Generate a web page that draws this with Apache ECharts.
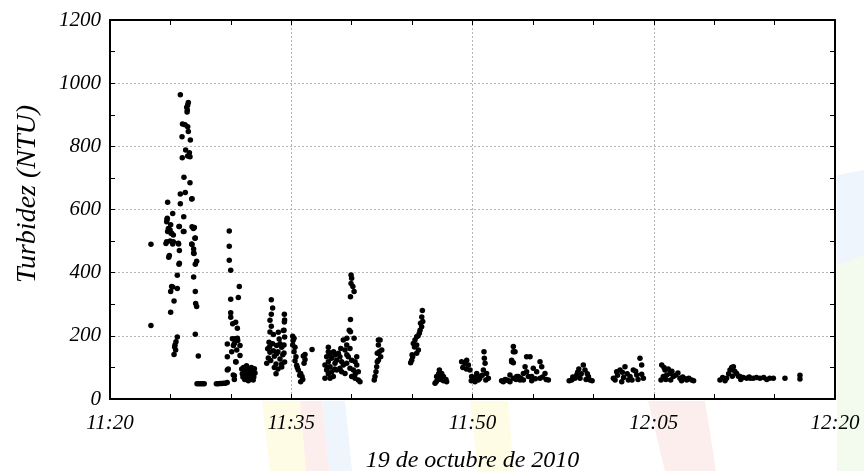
<!DOCTYPE html>
<html><head><meta charset="utf-8">
<script src="https://cdn.jsdelivr.net/npm/echarts@6/dist/echarts.min.js"></script>
<style>html,body{margin:0;padding:0;background:#fff}#c{width:864px;height:471px}</style>
</head><body><div id="c"></div>
<script>
// axis text
const xTickLabels = ['11:20', '11:35', '11:50', '12:05', '12:20'];
const xTitle = '19 de octubre de 2010';
const yTitle = 'Turbidez (NTU)';

// readings: [minutes after 11:20, turbidity NTU]
const burst1 = [[3.39,490],[3.39,233]];
const burst2 = [
  [5.82,963],[6.48,939],[6.43,931],[6.35,924],[6.40,915],[6.38,909],
  [6.00,871],[6.21,868],[6.43,862],[6.48,847],[5.96,830],[6.65,820],
  [6.26,788],[6.57,780],[6.43,769],[5.98,764],[6.62,767],
  [6.12,702],[6.62,685],[6.23,654],[5.82,649],[6.79,634],[6.76,633],
  [4.77,623],[5.82,618],[5.19,587],[4.72,568],[4.69,561],[5.02,552],[4.86,538],[4.77,530],[5.05,525],
  [6.10,577],[5.71,546],[6.12,530],[6.79,545],[6.98,543],[7.06,510],
  [4.74,572],[4.83,540],[4.97,535],[5.10,525],[5.24,519],[5.74,546],[6.07,530],[6.90,540],[7.03,509],
  [4.63,492],[4.97,500],[5.19,491],[5.68,491],[5.74,470],[4.86,449],[4.91,454],[6.79,489],[6.92,475],
  [6.92,462],[7.17,436],[4.69,498],[5.24,498],[5.65,493],[6.76,491],[6.95,461],
  [5.71,427],[5.57,392],[7.06,427],[5.19,355],[5.57,350],[6.92,386],[5.30,310],[7.06,340],[5.02,275],
  [7.09,302],[7.17,293],[5.10,356],[5.02,340],[5.74,430],
  [7.06,205],[5.57,196],[5.46,181],[5.38,171],[5.43,155],[5.30,141],[5.35,165],[7.31,136],
  [7.20,48],[7.35,48],[7.50,48],[7.65,48],[7.80,48],
  [8.80,48],[8.95,48],[9.10,49],[9.25,49],[9.40,50],[9.55,50],[9.70,52]
];
const burst3 = [
  [9.87,532],[9.87,484],[9.87,439],[9.99,408],[10.70,356],[9.99,316],[10.62,321],[9.99,273],[9.99,259],
  [10.40,243],[10.15,238],[10.54,224],[9.71,174],[10.29,176],[10.54,192],[10.49,155],[10.07,150],[9.71,134],
  [10.40,118],[9.79,95],[10.20,76],[10.29,62],[10.76,169],[10.43,117],[10.21,169],[10.13,191],[10.35,191],
  [10.57,185],[10.76,138],[10.29,74],[9.71,92],
  [10.90,95],[10.95,80],[11.00,70],[11.05,100],[11.10,88],[11.15,62],[11.20,75],[11.25,92],[11.30,105],
  [11.35,68],[11.40,82],[11.45,58],[11.50,95],[11.55,72],[11.60,86],[11.65,64],[11.70,100],[11.75,78],
  [11.80,90],[11.85,60],[11.90,70],[11.95,96],[12.00,82]
];
const burst4 = [
  [13.35,314],[13.46,288],[13.35,268],[13.24,249],[13.35,230],[13.24,212],[13.52,204],[13.93,211],[14.35,217],
  [14.43,268],[14.43,244],[13.16,180],[13.46,175],[13.05,159],[13.24,148],[13.52,153],[13.79,169],[14.07,175],
  [14.21,164],[13.79,143],[14.07,127],[14.21,111],[13.74,111],[13.74,80],[14.21,101],[12.97,113],
  [14.45,250],[14.40,218],[14.45,196],[14.40,171],[14.40,146],[14.45,117],
  [13.10,130],[13.30,122],[13.60,135],[13.90,150],[14.00,190],[13.60,100],[13.90,95],[13.20,165],[14.30,140]
];
const burst5 = [
  [15.12,199],[15.23,192],[15.12,171],[15.31,164],[15.23,150],[15.39,134],[15.31,121],[15.45,107],[15.58,92],
  [15.78,81],[15.89,71],[15.78,55],[16.00,136],[16.14,141],[16.14,125],[16.06,113],[15.15,185],[15.50,100],
  [15.95,62],[15.70,75],[16.72,157]
];
const burst6 = [
  [18.07,164],[18.07,150],[18.21,139],[17.93,134],[18.35,129],[18.07,118],[17.79,108],[18.21,102],[17.93,92],
  [18.35,86],[17.79,66],[18.21,66],[18.48,71],[18.07,79],[18.62,113],[18.76,123],[18.62,139],[18.90,145],
  [19.03,134],[19.17,118],[19.31,108],[19.03,97],[19.17,86],[19.45,81],[18.76,92],[19.31,187],[19.59,171],
  [19.86,160],[19.45,155],[19.72,134],[20.00,123],[19.59,113],[19.86,97],[20.14,92],[20.28,118],[20.42,134],
  [20.42,108],[20.55,86],[20.55,60],[20.69,55],[20.28,66],[20.00,71],
  [19.95,393],[20.00,382],[19.95,366],[20.10,356],[20.20,340],[19.90,324],[19.90,252],[19.80,218],[19.90,213],
  [19.60,192],[20.20,192],[18.50,150],[18.60,95],[19.10,160],[19.60,140],[20.30,80],[18.00,100]
];
const burst7 = [
  [22.21,187],[22.35,187],[22.21,171],[22.49,155],[22.29,150],[22.40,134],[22.21,123],[22.12,118],[22.07,102],
  [22.01,86],[21.93,71],[21.87,60],[22.12,145]
];
const burst8 = [
  [25.85,280],[25.88,245],[25.79,229],[25.66,218],[25.60,208],[25.38,197],[25.24,187],[25.10,176],[25.38,171],
  [25.52,155],[25.38,145],[25.05,134],[24.97,123],[24.88,115],[25.70,240],[25.50,200],[25.20,165],[25.00,140],[25.80,260]
];
const burst9 = [
  [27.26,92],[27.03,71],[27.31,66],[27.59,71],[27.72,60],[26.90,50],[27.86,55],[27.45,81],
  [27.10,60],[27.40,62],[27.20,80],[27.60,58],[27.00,55],[27.80,62],[27.35,75]
];
const burst10 = [
  [29.10,118],[29.52,123],[29.38,113],[29.66,108],[29.79,92],[29.93,71],[30.21,55],[30.35,81],[30.48,71],
  [30.90,92],[30.95,150],[30.98,129],[31.04,113],[31.17,81],[31.31,66],[30.07,66],[30.48,60],
  [29.20,100],[29.50,95],[30.00,62],[30.60,65],[30.80,75],[31.10,60],[29.90,58],[30.20,68]
];
const burst11 = [
  [32.41,58],[32.55,55],[32.83,60],[33.10,76],[33.10,55],[33.24,118],[33.24,123],[33.38,166],[33.38,150],
  [33.52,150],[33.38,115],[33.38,66],[33.66,71],[33.79,71],[33.93,60],[34.21,81],[34.21,60],[34.35,102],
  [34.48,134],[34.48,86],[34.62,71],[34.76,134],[34.90,71],[35.03,97],[35.31,86],[35.59,118],[35.73,102],
  [35.59,66],[36.00,81],[36.28,60],[32.70,62],[33.00,58],[33.60,62],[34.00,66],[34.90,58],[35.20,64],
  [35.80,70],[36.10,62]
];
const burst12 = [
  [38.21,60],[38.62,76],[39.17,108],[39.31,92],[39.59,71],[39.72,60],[38.90,66],[38.48,66],
  [38.00,58],[38.30,70],[38.70,85],[39.00,80],[39.40,62],[39.90,58],[38.80,95],[39.50,80]
];
const burst13 = [
  [41.66,66],[41.93,86],[42.21,92],[42.62,102],[43.31,92],[43.86,129],[44.00,108],[44.14,66],[43.04,71],
  [43.59,76],[42.35,55],[42.90,60],[41.80,60],[42.00,75],[42.50,68],[42.80,80],[43.20,60],[43.50,88],
  [43.70,62],[44.00,78],[42.40,85]
];
const burst14 = [
  [45.66,108],[45.93,92],[46.07,76],[46.35,81],[46.62,71],[47.17,66],[47.73,60],[48.14,60],[45.79,71],
  [45.85,100],[46.20,95],[46.50,88],[46.80,75],[47.00,82],[47.40,70],[47.60,64],[47.90,66],[48.30,58],
  [46.00,62],[45.60,60],[46.40,60],[47.30,58]
];
const burst15 = [
  [50.48,60],[50.70,68],[51.03,66],[51.20,80],[51.31,92],[51.45,100],[51.59,102],[51.70,88],[51.86,81],
  [52.00,72],[52.14,71],[52.40,68],[52.69,66],[52.90,70],[53.00,66],[53.24,66],[53.50,68],[53.79,66],
  [54.10,68],[54.35,62],[54.60,66],[54.90,66],[50.90,58],[51.50,72],[52.20,62]
];
const burst16 = [[55.86,66],[57.10,75],[57.10,63]];

const readings = [].concat(burst1, burst2, burst3, burst4, burst5, burst6, burst7, burst8,
  burst9, burst10, burst11, burst12, burst13, burst14, burst15, burst16);

const FONT = "'Liberation Serif', 'Times New Roman', serif";
const black = '#000';
const tickStyle = { color: black, width: 1 };
const lineStyle = { color: black, width: 2 };

const chart = echarts.init(document.getElementById('c'), null, { renderer: 'canvas' });
chart.setOption({
  backgroundColor: '#fff',
  animation: false,
  graphic: [
    { type: 'polygon', silent: true, z: -10, shape: { points: [[262,401],[300,401],[306,471],[270,471]] }, style: { fill: '#fffce6' } },
    { type: 'polygon', silent: true, z: -10, shape: { points: [[300,401],[322,401],[330,471],[306,471]] }, style: { fill: '#fdeeee' } },
    { type: 'polygon', silent: true, z: -10, shape: { points: [[322,401],[345,401],[352,471],[330,471]] }, style: { fill: '#eef5fc' } },
    { type: 'polygon', silent: true, z: -10, shape: { points: [[470,401],[508,401],[514,471],[478,471]] }, style: { fill: '#fffce6' } },
    { type: 'polygon', silent: true, z: -10, shape: { points: [[648,401],[705,401],[716,471],[665,471]] }, style: { fill: '#fdeeee' } },
    { type: 'polygon', silent: true, z: -10, shape: { points: [[837,175],[864,170],[864,270],[837,265]] }, style: { fill: '#eef5fc' } },
    { type: 'polygon', silent: true, z: -10, shape: { points: [[837,265],[864,255],[864,471],[837,471]] }, style: { fill: '#f3faee' } },
    { type: 'text', silent: true, x: 28, y: 194, rotation: Math.PI / 2,
      style: { text: yTitle, fill: black, font: "italic 28px 'Liberation Serif', 'Times New Roman', serif", textAlign: 'center', textVerticalAlign: 'middle' } }
  ],
  grid: { left: 110, right: 29, top: 20, bottom: 72, show: true, backgroundColor: '#fff', borderWidth: 0,
          outerBoundsMode: 'none', containLabel: false },
  xAxis: [{
    type: 'value', min: 0, max: 60, interval: 15, position: 'bottom',
    axisLine: { onZero: false, lineStyle },
    axisTick: { inside: true, length: 5, lineStyle: tickStyle },
    minorTick: { show: true, splitNumber: 3, length: 5, lineStyle: tickStyle },
    axisLabel: { formatter: v => xTickLabels[Math.round(v / 15)], color: black, fontFamily: FONT, fontStyle: 'italic', fontSize: 21, margin: 14 },
    splitLine: { show: true, lineStyle: { color: '#b4b4b4', width: 1, type: [2, 2] } },
    name: xTitle, nameLocation: 'middle', nameGap: 50,
    nameTextStyle: { color: black, fontFamily: FONT, fontStyle: 'italic', fontSize: 24 }
  }, {
    type: 'value', min: 0, max: 60, interval: 15, position: 'top',
    axisLine: { onZero: false, lineStyle },
    axisTick: { inside: true, length: 5, lineStyle: tickStyle },
    minorTick: { show: true, splitNumber: 3, length: 5, lineStyle: tickStyle },
    axisLabel: { show: false }, splitLine: { show: false }
  }],
  yAxis: [{
    type: 'value', min: 0, max: 1200, interval: 200, position: 'left',
    axisLine: { show: true, onZero: false, lineStyle },
    axisTick: { show: true, inside: true, length: 5, lineStyle: tickStyle },
    minorTick: { show: true, splitNumber: 2, length: 5, lineStyle: tickStyle },
    axisLabel: { formatter: v => String(v), color: black, fontFamily: FONT, fontStyle: 'italic', fontSize: 21, margin: 9 },
    splitLine: { show: true, lineStyle: { color: '#b4b4b4', width: 1, type: [2, 2] } }
  }, {
    type: 'value', min: 0, max: 1200, interval: 200, position: 'right',
    axisLine: { show: true, onZero: false, lineStyle },
    axisTick: { show: true, inside: true, length: 5, lineStyle: tickStyle },
    minorTick: { show: true, splitNumber: 2, length: 5, lineStyle: tickStyle },
    axisLabel: { show: false }, splitLine: { show: false }
  }],
  series: [{
    type: 'scatter', xAxisIndex: 0, yAxisIndex: 0,
    symbol: 'circle', symbolSize: 5.5,
    itemStyle: { color: black, opacity: 1 },
    data: readings
  }]
});
</script>
</body></html>
